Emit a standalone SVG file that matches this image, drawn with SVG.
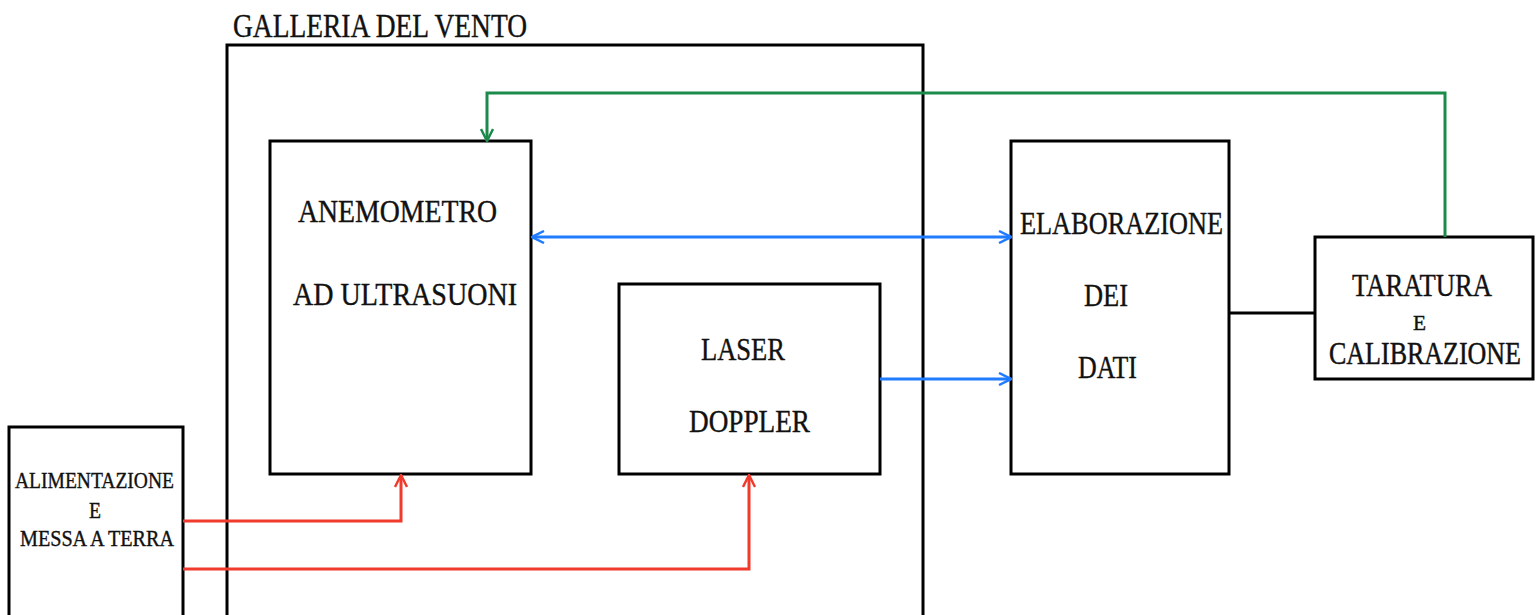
<svg xmlns="http://www.w3.org/2000/svg" width="1536" height="615" viewBox="0 0 1536 615">
<style>
.box{fill:none;stroke:#000;stroke-width:3}
.t{font-family:"Liberation Serif","DejaVu Serif",serif;fill:#111;stroke:#111;stroke-width:0.4}
.big{font-size:33px}
.mid{font-size:32px}
.sm{font-size:24px}
.xs{font-size:21px}
.red{stroke:#f03a2c;stroke-width:3;fill:none}
.blue{stroke:#1f7bff;stroke-width:3;fill:none}
.green{stroke:#1b8a4a;stroke-width:3;fill:none}
.blk{stroke:#000;stroke-width:3;fill:none}
</style>
<defs>
<marker id="arR" viewBox="0 0 14 14" refX="13" refY="7" markerWidth="14" markerHeight="14" markerUnits="userSpaceOnUse" orient="auto"><path d="M1,1 L13,7 L1,13" fill="none" stroke="#f03a2c" stroke-width="2.5"/></marker>
<marker id="arB" viewBox="0 0 14 14" refX="13" refY="7" markerWidth="14" markerHeight="14" markerUnits="userSpaceOnUse" orient="auto-start-reverse"><path d="M1,1 L13,7 L1,13" fill="none" stroke="#1f7bff" stroke-width="2.5"/></marker>
<marker id="arG" viewBox="0 0 14 14" refX="13" refY="7" markerWidth="14" markerHeight="14" markerUnits="userSpaceOnUse" orient="auto"><path d="M1,1 L13,7 L1,13" fill="none" stroke="#1b8a4a" stroke-width="2.5"/></marker>
</defs>
<rect width="1536" height="615" fill="#fff"/>

<g id="galleria">
<rect class="box" x="227" y="45" width="696" height="600"/>
<text class="t big" x="233" y="37" textLength="294" lengthAdjust="spacingAndGlyphs">GALLERIA DEL VENTO</text>
</g>

<g id="anemometro">
<rect class="box" x="270" y="141" width="261" height="333"/>
<text class="t mid" x="298" y="222" textLength="199" lengthAdjust="spacingAndGlyphs">ANEMOMETRO</text>
<text class="t mid" x="293" y="305" textLength="224" lengthAdjust="spacingAndGlyphs">AD ULTRASUONI</text>
</g>

<g id="laser">
<rect class="box" x="619" y="284" width="261" height="190"/>
<text class="t mid" x="701" y="360" textLength="84" lengthAdjust="spacingAndGlyphs">LASER</text>
<text class="t mid" x="689" y="432" textLength="121" lengthAdjust="spacingAndGlyphs">DOPPLER</text>
</g>

<g id="elaborazione">
<rect class="box" x="1011" y="141" width="218" height="333"/>
<text class="t mid" x="1020" y="234" textLength="203" lengthAdjust="spacingAndGlyphs">ELABORAZIONE</text>
<text class="t mid" x="1084" y="306" textLength="44" lengthAdjust="spacingAndGlyphs">DEI</text>
<text class="t mid" x="1078" y="378" textLength="59" lengthAdjust="spacingAndGlyphs">DATI</text>
</g>

<g id="taratura">
<rect class="box" x="1315" y="237" width="218" height="142"/>
<text class="t mid" x="1352" y="296" textLength="140" lengthAdjust="spacingAndGlyphs">TARATURA</text>
<text class="t xs" x="1413" y="330" textLength="13" lengthAdjust="spacingAndGlyphs">E</text>
<text class="t" style="font-size:25px" transform="translate(1329,364) scale(1,1.25)" x="0" y="0" textLength="192" lengthAdjust="spacingAndGlyphs">CALIBRAZIONE</text>
</g>

<g id="alimentazione">
<rect class="box" x="9" y="427" width="174" height="220"/>
<text class="t sm" x="15" y="488" textLength="159" lengthAdjust="spacingAndGlyphs">ALIMENTAZIONE</text>
<text class="t sm" x="89" y="518" textLength="12" lengthAdjust="spacingAndGlyphs">E</text>
<text class="t sm" x="20" y="546" textLength="154" lengthAdjust="spacingAndGlyphs">MESSA A TERRA</text>
</g>

<g id="connectors">
<polyline class="green" points="1445,237 1445,93 487,93 487,141" marker-end="url(#arG)"/>
<line class="blue" x1="532" y1="237" x2="1011" y2="237" marker-start="url(#arB)" marker-end="url(#arB)"/>
<line class="blue" x1="880" y1="379" x2="1011" y2="379" marker-end="url(#arB)"/>
<line class="blk" x1="1229" y1="313" x2="1315" y2="313"/>
<polyline class="red" points="183,521 401,521 401,475" marker-end="url(#arR)"/>
<polyline class="red" points="183,569 749,569 749,475" marker-end="url(#arR)"/>
</g>
</svg>
